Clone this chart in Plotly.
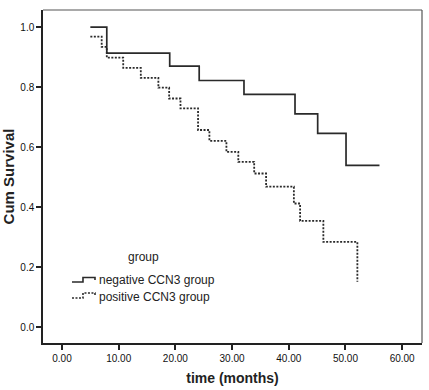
import plotly.graph_objects as go

neg_time = [5.0, 7.9, 19.0, 24.2, 32.1, 41.1, 45.1, 50.1, 56.0]
neg_surv = [1.0, 0.913, 0.870, 0.822, 0.776, 0.711, 0.646, 0.539, 0.539]

pos_time = [5.0, 7.0, 7.9, 10.8, 13.9, 17.0, 18.9, 20.9, 24.0, 26.0, 29.0, 31.1,
            33.9, 36.0, 40.9, 42.0, 46.1, 52.1]
pos_surv = [0.968, 0.934, 0.898, 0.864, 0.831, 0.798, 0.762, 0.729, 0.657, 0.621,
            0.584, 0.551, 0.512, 0.468, 0.412, 0.354, 0.284, 0.151]

x_ticks = [0, 10, 20, 30, 40, 50, 60]
x_tick_labels = ["0.00", "10.00", "20.00", "30.00", "40.00", "50.00", "60.00"]
y_ticks = [0.0, 0.2, 0.4, 0.6, 0.8, 1.0]
y_tick_labels = ["0.0", "0.2", "0.4", "0.6", "0.8", "1.0"]

legend_title = "group"
group_names = ["negative CCN3 group", "positive CCN3 group"]

font_family = "Liberation Sans, Arial, sans-serif"
line_color = "#2a2a2a"
dot_dash = "2px,1.5px"

fig = go.Figure()
fig.add_trace(go.Scatter(x=neg_time, y=neg_surv, mode="lines", line_shape="hv",
                         name=group_names[0], showlegend=False,
                         line=dict(color=line_color, width=1.7)))
fig.add_trace(go.Scatter(x=pos_time, y=pos_surv, mode="lines", line_shape="hv",
                         name=group_names[1], showlegend=False,
                         line=dict(color=line_color, width=1.8, dash=dot_dash)))

# manual legend (paper coordinates)
annotations = [
    dict(text=legend_title, xref="paper", yref="paper", x=0.264, y=0.258,
         xanchor="center", yanchor="middle", showarrow=False,
         font=dict(size=12, color="#222222")),
    dict(text=group_names[0], xref="paper", yref="paper", x=0.1425, y=0.189,
         xanchor="left", yanchor="middle", showarrow=False,
         font=dict(size=12, color="#222222")),
    dict(text=group_names[1], xref="paper", yref="paper", x=0.1425, y=0.138,
         xanchor="left", yanchor="middle", showarrow=False,
         font=dict(size=12, color="#222222")),
]

shapes = [
    dict(type="line", xref="paper", yref="paper", x0=0, x1=1, y0=1, y1=1,
         line=dict(color="#555555", width=1.2)),
    dict(type="line", xref="paper", yref="paper", x0=1, x1=1, y0=0, y1=1,
         line=dict(color="#555555", width=1.2)),
    dict(type="path", xref="paper", yref="paper",
         path="M0.0765,0.1832 L0.1055,0.1832 L0.1055,0.1967 L0.1372,0.1967 L0.1372,0.1892",
         line=dict(color=line_color, width=1.6)),
    dict(type="path", xref="paper", yref="paper",
         path="M0.0765,0.1351 L0.1055,0.1351 L0.1055,0.1502 L0.1372,0.1502 L0.1372,0.1411",
         line=dict(color=line_color, width=1.6, dash=dot_dash)),
]

fig.update_layout(
    width=429, height=390,
    margin=dict(l=43, r=7, t=10, b=47),
    paper_bgcolor="white", plot_bgcolor="white",
    font=dict(family=font_family, color="#222222", size=10),
    showlegend=False,
    annotations=annotations,
    shapes=shapes,
    xaxis=dict(
        range=[-3.35, 63.5], tickmode="array", tickvals=x_ticks, ticktext=x_tick_labels,
        ticks="outside", ticklen=5, tickwidth=1.5, tickcolor="#222222",
        showline=True, linecolor="#222222", linewidth=1.5,
        showgrid=False, zeroline=False,
        tickfont=dict(size=10, color="#111111"),
        title=dict(text="<b>time (months)</b>", font=dict(size=14), standoff=10),
    ),
    yaxis=dict(
        range=[-0.053, 1.057], tickmode="array", tickvals=y_ticks, ticktext=y_tick_labels,
        ticks="outside", ticklen=5, tickwidth=1.5, tickcolor="#222222",
        showline=True, linecolor="#222222", linewidth=1.5,
        showgrid=False, zeroline=False,
        tickfont=dict(size=10, color="#111111"),
        title=dict(text="<b>Cum Survival</b>", font=dict(size=15), standoff=4),
    ),
)

fig.write_html("out.html")
